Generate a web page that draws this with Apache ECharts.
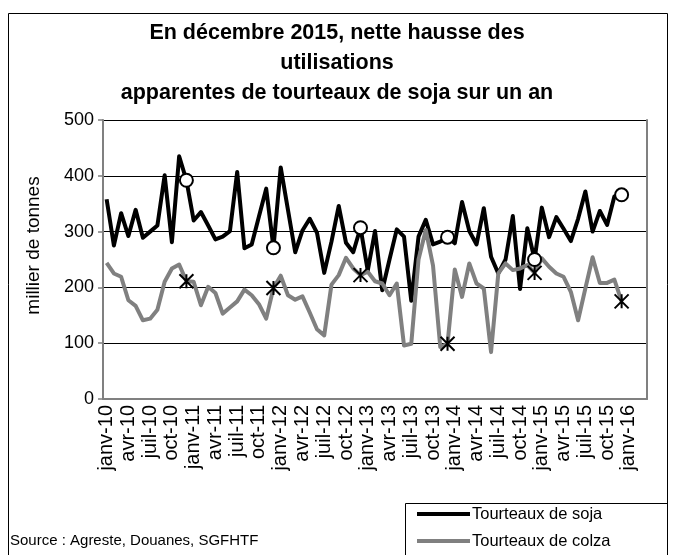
<!DOCTYPE html>
<html>
<head>
<meta charset="utf-8">
<script src="https://cdn.jsdelivr.net/npm/echarts@6/dist/echarts.min.js"></script>
<style>
html,body{margin:0;padding:0;background:#fff;}
#chart{width:674px;height:555px;}
</style>
</head>
<body>
<div id="chart"></div>
<script>
// ---- data ----
var monthNames = ['janv','févr','mars','avr','mai','juin','juil','août','sept','oct','nov','déc'];
var yearNames = ['10','11','12','13','14','15','16'];
var categoryCount = 75; // janv-10 .. mars-16 (axis extends past last data point)

var soja = [
  358,275,333,292,339,289,300,311,401,281,435,392,
  320,335,311,286,291,301,407,270,277,327,377,271,
  415,339,263,302,323,298,226,282,346,280,263,307,
  230,301,195,250,304,291,176,291,321,277,282,290,
  279,353,301,277,342,255,225,250,328,197,306,250,
  343,290,326,305,283,323,372,300,337,312,363,366
];
var colza = [
  244,225,219,177,167,141,144,160,210,234,241,211,
  210,168,201,190,153,164,175,196,186,170,144,199,
  221,186,178,184,155,125,114,205,222,253,234,222,
  228,211,207,186,207,96,99,250,303,239,93,99,
  232,183,243,207,198,84,225,243,231,234,240,226,
  252,237,225,219,192,141,198,254,208,208,214,175
];
var yTicks = [0,100,200,300,400,500];
var titleText = 'En décembre 2015, nette hausse des\nutilisations\napparentes de tourteaux de soja sur un an';
var yTitle = 'millier de tonnes';
var seriesNames = ['Tourteaux de soja','Tourteaux de colza'];
var sourceText = 'Source : Agreste, Douanes, SGFHTF';

// ---- derived ----
var categories = [];
yearNames.forEach(function(y){ monthNames.forEach(function(m){ categories.push(m + '-' + y); }); });
categories = categories.slice(0, categoryCount);
function decemberOnly(arr){
  return arr.map(function(v,i){ return categories[i].indexOf('déc') === 0 ? v : '-'; });
}
var sojaMarks = decemberOnly(soja);
var colzaMarks = decemberOnly(colza);

var FONT = '"Liberation Sans", Arial, sans-serif';
var chart = echarts.init(document.getElementById('chart'), null, {renderer:'canvas'});
chart.setOption({
  animation: false,
  backgroundColor: '#fff',
  textStyle: {fontFamily: FONT, color: '#000'},
  title: {
    text: titleText,
    left: 'center',
    top: 13,
    textStyle: {fontFamily: FONT, fontSize: 21.5, fontWeight: 'bold', color: '#000', lineHeight: 30}
  },
  grid: {left: 103, right: 27, top: 120, bottom: 156, containLabel: false},
  xAxis: {
    type: 'category',
    data: categories,
    boundaryGap: true,
    axisLine: {lineStyle: {color: '#808080', width: 2}},
    axisTick: {interval: 2, length: 6, lineStyle: {color: '#808080', width: 1.5}},
    axisLabel: {interval: 2, rotate: 90, margin: 6, fontSize: 20, color: '#000', fontFamily: FONT},
    splitLine: {show: false}
  },
  yAxis: [{
    type: 'value',
    min: yTicks[0], max: yTicks[yTicks.length-1], interval: 100,
    name: yTitle,
    nameLocation: 'middle',
    nameRotate: 90,
    nameGap: 60,
    nameTextStyle: {fontSize: 19, color: '#000', fontFamily: FONT, padding: [0,0,0,28]},
    axisLine: {show: true, lineStyle: {color: '#808080', width: 2}},
    axisTick: {show: true, length: 5, lineStyle: {color: '#808080', width: 1.5}},
    axisLabel: {fontSize: 18, color: '#000', margin: 9, fontFamily: FONT},
    splitLine: {show: true, lineStyle: {color: '#000', width: 1}}
  },{
    type: 'value',
    position: 'right',
    min: yTicks[0], max: yTicks[yTicks.length-1], interval: 100,
    axisLine: {show: true, lineStyle: {color: '#808080', width: 2}},
    axisTick: {show: false},
    axisLabel: {show: false},
    splitLine: {show: false}
  }],
  legend: {
    data: seriesNames,
    orient: 'vertical',
    left: 417,
    top: 505,
    padding: 0,
    itemGap: 9,
    icon: 'rect',
    itemWidth: 53,
    itemHeight: 4,
    textStyle: {fontSize: 16.5, color: '#000', fontFamily: FONT, lineHeight: 18, padding: [0,0,0,-3]}
  },
  graphic: [
    {type: 'rect', shape: {x: 8.5, y: 13.5, width: 659, height: 600}, style: {fill: null, stroke: '#000', lineWidth: 1}, silent: true, z: 0},
    {type: 'rect', shape: {x: 405.5, y: 503.5, width: 262, height: 80}, style: {fill: null, stroke: '#000', lineWidth: 1}, silent: true, z: 0},
    {type: 'text', left: 10, top: 533, style: {text: sourceText, fontSize: 15, fill: '#000', fontFamily: FONT}, silent: true}
  ],
  series: [
    {name: seriesNames[0], type: 'line', data: soja, symbol: 'none', color: '#000',
     lineStyle: {color: '#000', width: 4, join: 'round'}, z: 3},
    {name: seriesNames[1], type: 'line', data: colza, symbol: 'none', color: '#808080',
     lineStyle: {color: '#808080', width: 4, join: 'round'}, z: 3},
    {name: 'soja-marques', type: 'scatter', data: sojaMarks, symbol: 'circle', symbolSize: 13,
     itemStyle: {color: '#fff', borderColor: '#000', borderWidth: 2, opacity: 1}, z: 5},
    {name: 'colza-marques', type: 'scatter', data: colzaMarks,
     symbol: 'path://M0,0L10,10M10,0L0,10M5,0L5,10', symbolSize: [14, 14],
     itemStyle: {color: '#000', borderColor: '#000', borderWidth: 2, opacity: 1}, z: 5}
  ]
});
</script>
</body>
</html>
